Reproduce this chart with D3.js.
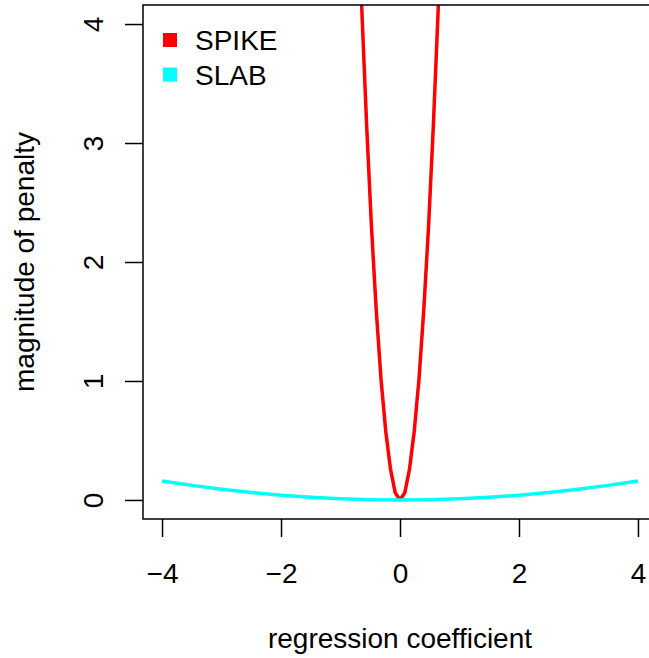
<!DOCTYPE html>
<html>
<head>
<meta charset="utf-8">
<script src="https://cdn.jsdelivr.net/npm/d3@7"></script>
<style>
  body { margin: 0; background: #fff; }
  text { font-family: "Liberation Sans", Arial, sans-serif; fill: #000; }
</style>
</head>
<body>
<div id="chart"></div>
<script>
var width = 649, height = 658;

// curve points
var spikeX = [-0.72, -0.64, -0.56, -0.48, -0.40, -0.32, -0.24, -0.16, -0.08, 0,
              0.08, 0.16, 0.24, 0.32, 0.40, 0.48, 0.56, 0.64, 0.72];
var spikeY = [5.18, 4.10, 3.14, 2.30, 1.60, 1.02, 0.58, 0.26, 0.06, 0,
              0.06, 0.26, 0.58, 1.02, 1.60, 2.30, 3.14, 4.10, 5.18];

var slabX = [-4, -3.5, -3, -2.5, -2, -1.5, -1, -0.5, 0, 0.5, 1, 1.5, 2, 2.5, 3, 3.5, 4];
var slabY = [0.160, 0.1225, 0.090, 0.0625, 0.040, 0.0225, 0.010, 0.0025, 0,
             0.0025, 0.010, 0.0225, 0.040, 0.0625, 0.090, 0.1225, 0.160];

var xTicks = [-4, -2, 0, 2, 4];
var yTicks = [0, 1, 2, 3, 4];

var legendLabels = ['SPIKE', 'SLAB'];
var legendColors = ['#ff0000', '#00ffff'];

// plot region (right edge runs past the window, like the original)
var pLeft = 143, pRight = 657, pTop = 5, pBottom = 519;

var x = d3.scaleLinear().domain([-4.32, 4.32]).range([pLeft, pRight]);
var y = d3.scaleLinear().domain([-0.16, 4.16]).range([pBottom, pTop]);

var svg = d3.select('#chart')
    .append('svg')
    .attr('width', width)
    .attr('height', height);

svg.append('defs').append('clipPath')
    .attr('id', 'plotclip')
    .append('rect')
    .attr('x', pLeft).attr('y', pTop)
    .attr('width', pRight - pLeft).attr('height', pBottom - pTop);

var line = d3.line()
    .x(function (d) { return x(d[0]); })
    .y(function (d) { return y(d[1]); });

var plot = svg.append('g').attr('clip-path', 'url(#plotclip)');

plot.append('path')
    .datum(d3.zip(spikeX, spikeY))
    .attr('d', line)
    .attr('fill', 'none')
    .attr('stroke', legendColors[0])
    .attr('stroke-width', 3.5)
    .attr('stroke-linejoin', 'round');

plot.append('path')
    .datum(d3.zip(slabX, slabY))
    .attr('d', line)
    .attr('fill', 'none')
    .attr('stroke', legendColors[1])
    .attr('stroke-width', 3.5)
    .attr('stroke-linejoin', 'round');

// box
svg.append('rect')
    .attr('x', pLeft).attr('y', pTop)
    .attr('width', pRight - pLeft).attr('height', pBottom - pTop)
    .attr('fill', 'none')
    .attr('stroke', '#000')
    .attr('stroke-width', 1.5);

var fmt = function (d) { return String(d).replace('-', '\u2212'); };

// x axis
var xAxis = svg.append('g')
    .attr('transform', 'translate(0,' + pBottom + ')')
    .call(d3.axisBottom(x).tickValues(xTicks).tickSize(18).tickFormat(fmt));
xAxis.select('.domain').remove();
xAxis.selectAll('.tick line').attr('stroke', '#000').attr('stroke-width', 1.5);
xAxis.selectAll('.tick text')
    .attr('y', 64).attr('dy', null)
    .style('font-size', '28px');

// y axis
var yAxis = svg.append('g')
    .attr('transform', 'translate(' + pLeft + ',0)')
    .call(d3.axisLeft(y).tickValues(yTicks).tickSize(18).tickFormat(fmt));
yAxis.select('.domain').remove();
yAxis.selectAll('.tick line').attr('stroke', '#000').attr('stroke-width', 1.5);
yAxis.selectAll('.tick text')
    .attr('x', null).attr('dy', null)
    .attr('text-anchor', 'middle')
    .attr('transform', 'translate(-40,0) rotate(-90)')
    .style('font-size', '28px');

// axis titles
svg.append('text')
    .attr('x', (pLeft + pRight) / 2)
    .attr('y', 648)
    .attr('text-anchor', 'middle')
    .style('font-size', '28px')
    .text('regression coefficient');

svg.append('text')
    .attr('transform', 'translate(34,' + ((pTop + pBottom) / 2) + ') rotate(-90)')
    .attr('text-anchor', 'middle')
    .style('font-size', '28px')
    .text('magnitude of penalty');

// legend
var legend = svg.selectAll('.legend')
    .data(legendLabels).enter()
    .append('g')
    .attr('class', 'legend')
    .attr('transform', function (d, i) { return 'translate(0,' + (40 + i * 34.5) + ')'; });

legend.append('rect')
    .attr('x', 163).attr('y', -7)
    .attr('width', 14).attr('height', 14)
    .attr('fill', function (d, i) { return legendColors[i]; });

legend.append('text')
    .attr('x', 195).attr('y', 10)
    .style('font-size', '28px')
    .text(function (d) { return d; });
</script>
</body>
</html>
